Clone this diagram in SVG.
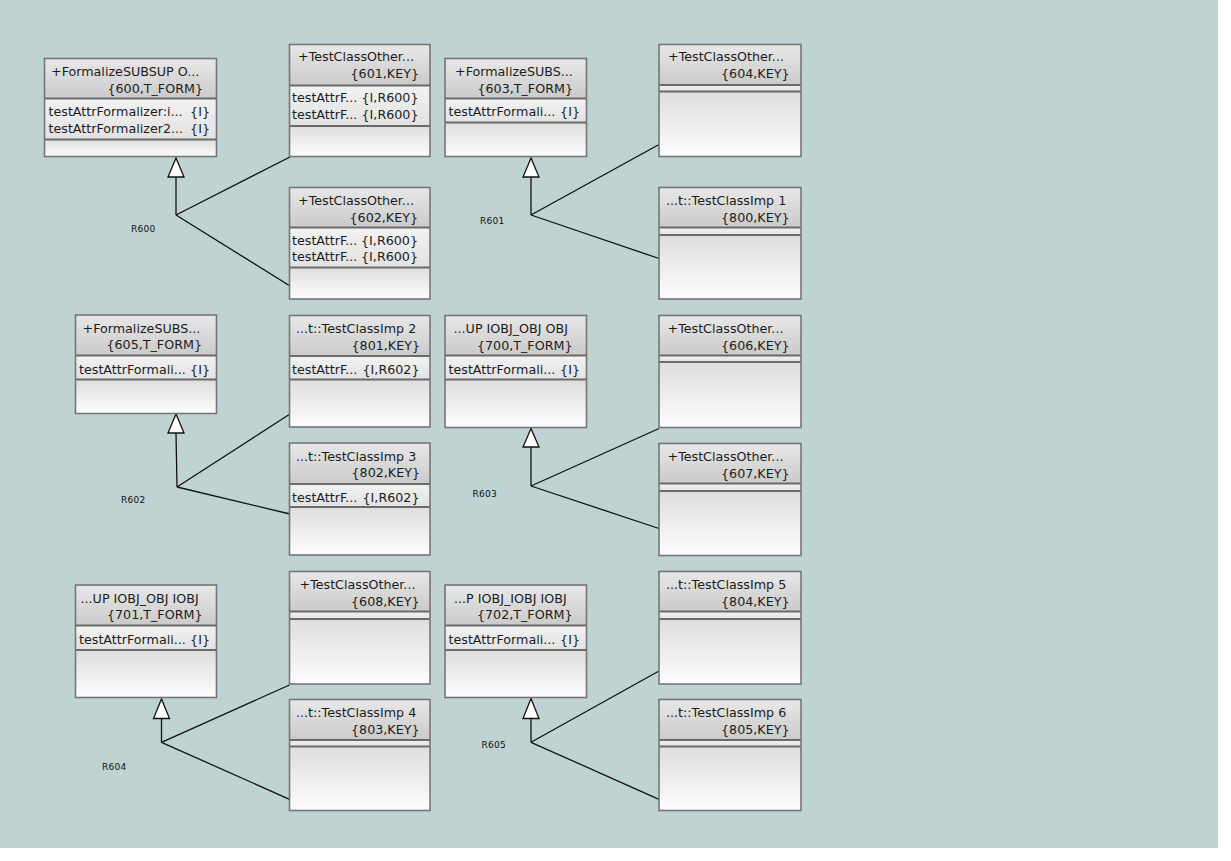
<svg xmlns="http://www.w3.org/2000/svg" width="1231" height="861" viewBox="0 0 1231 861">
  <defs>
    <linearGradient id="gHead" x1="0" y1="0" x2="0" y2="1">
      <stop offset="0" stop-color="#e8e8e8"/>
      <stop offset="1" stop-color="#cacaca"/>
    </linearGradient>
    <linearGradient id="gAttr" x1="0" y1="0" x2="0" y2="1">
      <stop offset="0" stop-color="#f2f2f2"/>
      <stop offset="1" stop-color="#e2e2e2"/>
    </linearGradient>
    <linearGradient id="gOps" x1="0" y1="0" x2="0" y2="1">
      <stop offset="0" stop-color="#dedede"/>
      <stop offset="1" stop-color="#fdfdfd"/>
    </linearGradient>
  </defs>
  <style>
    .hd { fill: url(#gHead); }
    .at { fill: url(#gAttr); }
    .op { fill: url(#gOps); }
    .frame { fill: none; stroke: #767676; stroke-width: 1.6; }
    .div { stroke: #6a6a6a; stroke-width: 2; }
    .t { font-family: "DejaVu Sans", sans-serif; font-size: 12.7px; fill: #1c1c1c; }
    .r { text-anchor: end; }
    .conn line { stroke: #111; stroke-width: 1.3; fill: none; }
    .tri { fill: #ffffff; stroke: #111; stroke-width: 1.3; }
    .lbl { font-family: "DejaVu Sans", sans-serif; font-size: 9px; fill: #111; letter-spacing: 0.3px; }
  </style>

  <!-- canvas -->
  <rect x="0" y="0" width="1231" height="861" fill="#ffffff"/>
  <rect x="0" y="0" width="1218" height="848" fill="#bfd3d2"/>

  <!-- generalization connectors -->
  <g id="connectors" class="conn">
    <!-- R600 -->
    <line x1="176" y1="177" x2="176" y2="215"/>
    <line x1="176" y1="215" x2="290" y2="157"/>
    <line x1="176" y1="215" x2="290" y2="286"/>
    <polygon class="tri" points="176,158 168,177 184,177"/>
    <!-- R601 -->
    <line x1="531" y1="177" x2="531" y2="215"/>
    <line x1="531" y1="215" x2="659" y2="144.5"/>
    <line x1="531" y1="215" x2="659" y2="258.5"/>
    <polygon class="tri" points="531,158 523,177 539,177"/>
    <!-- R602 -->
    <line x1="176" y1="433" x2="177" y2="487"/>
    <line x1="177" y1="487" x2="290" y2="414"/>
    <line x1="177" y1="487" x2="290" y2="514"/>
    <polygon class="tri" points="176,414 168,433 184,433"/>
    <!-- R603 -->
    <line x1="531" y1="447" x2="531" y2="486"/>
    <line x1="531" y1="486" x2="659" y2="428.5"/>
    <line x1="531" y1="486" x2="659" y2="528.5"/>
    <polygon class="tri" points="531,428.5 523,447 539,447"/>
    <!-- R604 -->
    <line x1="161.5" y1="718.5" x2="161.5" y2="742.3"/>
    <line x1="161.5" y1="742.3" x2="289.5" y2="685"/>
    <line x1="161.5" y1="742.3" x2="289.5" y2="799.3"/>
    <polygon class="tri" points="161.5,699 153.5,718.5 169.5,718.5"/>
    <!-- R605 -->
    <line x1="531" y1="718.5" x2="531" y2="742.3"/>
    <line x1="531" y1="742.3" x2="659" y2="671"/>
    <line x1="531" y1="742.3" x2="659" y2="799.3"/>
    <polygon class="tri" points="531,698.5 523,718.5 539,718.5"/>
    <!-- association labels -->
    <text class="lbl" x="131" y="232">R600</text>
    <text class="lbl" x="480" y="224">R601</text>
    <text class="lbl" x="121" y="503">R602</text>
    <text class="lbl" x="472.5" y="496.5">R603</text>
    <text class="lbl" x="102" y="770">R604</text>
    <text class="lbl" x="481.5" y="748.3">R605</text>
  </g>

  <!-- 600 -->
  <g id="cls600" transform="translate(44.5,58.5)">
    <rect class="hd" width="172" height="40"/>
    <rect class="at" y="40" width="172" height="41"/>
    <rect class="op" y="81" width="172" height="17"/>
    <line class="div" x1="0" y1="40" x2="172" y2="40"/>
    <line class="div" x1="0" y1="81" x2="172" y2="81"/>
    <rect class="frame" width="172" height="98"/>
    <text class="t" x="6.5" y="17">+FormalizeSUBSUP O...</text>
    <text class="t r" x="158.5" y="34">{600,T_FORM}</text>
    <text class="t" x="4" y="57.5">testAttrFormalizer:i...</text>
    <text class="t r" x="165.5" y="57.5">{I}</text>
    <text class="t" x="4" y="74">testAttrFormalizer2...</text>
    <text class="t r" x="165.5" y="74">{I}</text>
  </g>

  <!-- 601 -->
  <g id="cls601" transform="translate(289.5,44.5)">
    <rect class="hd" width="140.5" height="41"/>
    <rect class="at" y="41" width="140.5" height="40.5"/>
    <rect class="op" y="81.5" width="140.5" height="30.5"/>
    <line class="div" x1="0" y1="41" x2="140.5" y2="41"/>
    <line class="div" x1="0" y1="81.5" x2="140.5" y2="81.5"/>
    <rect class="frame" width="140.5" height="112"/>
    <text class="t" x="8.5" y="16.5">+TestClassOther...</text>
    <text class="t r" x="129.5" y="33.5">{601,KEY}</text>
    <text class="t" x="2.5" y="57.5">testAttrF...</text>
    <text class="t r" x="129" y="57.5">{I,R600}</text>
    <text class="t" x="2.5" y="74">testAttrF...</text>
    <text class="t r" x="129" y="74">{I,R600}</text>
  </g>

  <!-- 602 -->
  <g id="cls602" transform="translate(289.5,187.5)">
    <rect class="hd" width="140.5" height="40"/>
    <rect class="at" y="40" width="140.5" height="40"/>
    <rect class="op" y="80" width="140.5" height="31.5"/>
    <line class="div" x1="0" y1="40" x2="140.5" y2="40"/>
    <line class="div" x1="0" y1="80" x2="140.5" y2="80"/>
    <rect class="frame" width="140.5" height="111.5"/>
    <text class="t" x="8.5" y="17">+TestClassOther...</text>
    <text class="t r" x="128.5" y="34">{602,KEY}</text>
    <text class="t" x="2.5" y="57">testAttrF...</text>
    <text class="t r" x="128.5" y="57">{I,R600}</text>
    <text class="t" x="2.5" y="73.5">testAttrF...</text>
    <text class="t r" x="128.5" y="73.5">{I,R600}</text>
  </g>

  <!-- 603 -->
  <g id="cls603" transform="translate(445,58.5)">
    <rect class="hd" width="141.5" height="40"/>
    <rect class="at" y="40" width="141.5" height="24"/>
    <rect class="op" y="64" width="141.5" height="34"/>
    <line class="div" x1="0" y1="40" x2="141.5" y2="40"/>
    <line class="div" x1="0" y1="64" x2="141.5" y2="64"/>
    <rect class="frame" width="141.5" height="98"/>
    <text class="t" x="10" y="17">+FormalizeSUBS...</text>
    <text class="t r" x="128" y="34">{603,T_FORM}</text>
    <text class="t" x="3.5" y="57.5">testAttrFormali...</text>
    <text class="t r" x="135" y="57.5">{I}</text>
  </g>

  <!-- 604 -->
  <g id="cls604" transform="translate(659,44.5)">
    <rect class="hd" width="142" height="40.5"/>
    <rect class="at" y="40.5" width="142" height="6.5"/>
    <rect class="op" y="47" width="142" height="65"/>
    <line class="div" x1="0" y1="40.5" x2="142" y2="40.5"/>
    <line class="div" x1="0" y1="47" x2="142" y2="47"/>
    <rect class="frame" width="142" height="112"/>
    <text class="t" x="9" y="16.5">+TestClassOther...</text>
    <text class="t r" x="130.5" y="33.5">{604,KEY}</text>
  </g>

  <!-- 800 -->
  <g id="cls800" transform="translate(659,187.5)">
    <rect class="hd" width="142" height="40"/>
    <rect class="at" y="40" width="142" height="7.5"/>
    <rect class="op" y="47.5" width="142" height="64"/>
    <line class="div" x1="0" y1="40" x2="142" y2="40"/>
    <line class="div" x1="0" y1="47.5" x2="142" y2="47.5"/>
    <rect class="frame" width="142" height="111.5"/>
    <text class="t" x="7" y="17">...t::TestClassImp 1</text>
    <text class="t r" x="130.5" y="34">{800,KEY}</text>
  </g>

  <!-- 605 -->
  <g id="cls605" transform="translate(75.5,315)">
    <rect class="hd" width="141" height="40.5"/>
    <rect class="at" y="40.5" width="141" height="24"/>
    <rect class="op" y="64.5" width="141" height="34"/>
    <line class="div" x1="0" y1="40.5" x2="141" y2="40.5"/>
    <line class="div" x1="0" y1="64.5" x2="141" y2="64.5"/>
    <rect class="frame" width="141" height="98.5"/>
    <text class="t" x="7" y="17.5">+FormalizeSUBS...</text>
    <text class="t r" x="126.5" y="34.3">{605,T_FORM}</text>
    <text class="t" x="3.5" y="59">testAttrFormali...</text>
    <text class="t r" x="134.5" y="59">{I}</text>
  </g>

  <!-- 801 -->
  <g id="cls801" transform="translate(289.5,315.5)">
    <rect class="hd" width="140.5" height="40.5"/>
    <rect class="at" y="40.5" width="140.5" height="23.5"/>
    <rect class="op" y="64" width="140.5" height="47.5"/>
    <line class="div" x1="0" y1="40.5" x2="140.5" y2="40.5"/>
    <line class="div" x1="0" y1="64" x2="140.5" y2="64"/>
    <rect class="frame" width="140.5" height="111.5"/>
    <text class="t" x="6.5" y="17.2">...t::TestClassImp 2</text>
    <text class="t r" x="130.5" y="34">{801,KEY}</text>
    <text class="t" x="2.5" y="58.8">testAttrF...</text>
    <text class="t r" x="130" y="58.8">{I,R602}</text>
  </g>

  <!-- 802 -->
  <g id="cls802" transform="translate(289.5,443)">
    <rect class="hd" width="140.5" height="41"/>
    <rect class="at" y="41" width="140.5" height="23"/>
    <rect class="op" y="64" width="140.5" height="48"/>
    <line class="div" x1="0" y1="41" x2="140.5" y2="41"/>
    <line class="div" x1="0" y1="64" x2="140.5" y2="64"/>
    <rect class="frame" width="140.5" height="112"/>
    <text class="t" x="6.5" y="17.5">...t::TestClassImp 3</text>
    <text class="t r" x="130.5" y="34.3">{802,KEY}</text>
    <text class="t" x="2.5" y="58.5">testAttrF...</text>
    <text class="t r" x="130" y="58.5">{I,R602}</text>
  </g>

  <!-- 700 -->
  <g id="cls700" transform="translate(445,315.5)">
    <rect class="hd" width="141.5" height="40"/>
    <rect class="at" y="40" width="141.5" height="24"/>
    <rect class="op" y="64" width="141.5" height="48"/>
    <line class="div" x1="0" y1="40" x2="141.5" y2="40"/>
    <line class="div" x1="0" y1="64" x2="141.5" y2="64"/>
    <rect class="frame" width="141.5" height="112"/>
    <text class="t" x="8.5" y="17.2">...UP IOBJ_OBJ OBJ</text>
    <text class="t r" x="127.5" y="34">{700,T_FORM}</text>
    <text class="t" x="3.5" y="58.8">testAttrFormali...</text>
    <text class="t r" x="135" y="58.8">{I}</text>
  </g>

  <!-- 606 -->
  <g id="cls606" transform="translate(659,315.5)">
    <rect class="hd" width="142" height="40"/>
    <rect class="at" y="40" width="142" height="6.5"/>
    <rect class="op" y="46.5" width="142" height="65.5"/>
    <line class="div" x1="0" y1="40" x2="142" y2="40"/>
    <line class="div" x1="0" y1="46.5" x2="142" y2="46.5"/>
    <rect class="frame" width="142" height="112"/>
    <text class="t" x="8.5" y="17.2">+TestClassOther...</text>
    <text class="t r" x="130.5" y="34">{606,KEY}</text>
  </g>

  <!-- 607 -->
  <g id="cls607" transform="translate(659,443.5)">
    <rect class="hd" width="142" height="40"/>
    <rect class="at" y="40" width="142" height="7.5"/>
    <rect class="op" y="47.5" width="142" height="64.5"/>
    <line class="div" x1="0" y1="40" x2="142" y2="40"/>
    <line class="div" x1="0" y1="47.5" x2="142" y2="47.5"/>
    <rect class="frame" width="142" height="112"/>
    <text class="t" x="8.5" y="17.2">+TestClassOther...</text>
    <text class="t r" x="130.5" y="34">{607,KEY}</text>
  </g>

  <!-- 701 -->
  <g id="cls701" transform="translate(75.5,585)">
    <rect class="hd" width="141" height="40.5"/>
    <rect class="at" y="40.5" width="141" height="24.5"/>
    <rect class="op" y="65" width="141" height="47.5"/>
    <line class="div" x1="0" y1="40.5" x2="141" y2="40.5"/>
    <line class="div" x1="0" y1="65" x2="141" y2="65"/>
    <rect class="frame" width="141" height="112.5"/>
    <text class="t" x="5" y="17.5">...UP IOBJ_OBJ IOBJ</text>
    <text class="t r" x="127" y="34.3">{701,T_FORM}</text>
    <text class="t" x="3.5" y="59">testAttrFormali...</text>
    <text class="t r" x="134.5" y="59">{I}</text>
  </g>

  <!-- 608 -->
  <g id="cls608" transform="translate(289.5,571.5)">
    <rect class="hd" width="140.5" height="40"/>
    <rect class="at" y="40" width="140.5" height="7.5"/>
    <rect class="op" y="47.5" width="140.5" height="65"/>
    <line class="div" x1="0" y1="40" x2="140.5" y2="40"/>
    <line class="div" x1="0" y1="47.5" x2="140.5" y2="47.5"/>
    <rect class="frame" width="140.5" height="112.5"/>
    <text class="t" x="10" y="17">+TestClassOther...</text>
    <text class="t r" x="130" y="34">{608,KEY}</text>
  </g>

  <!-- 803 -->
  <g id="cls803" transform="translate(289.5,699.5)">
    <rect class="hd" width="140.5" height="40.5"/>
    <rect class="at" y="40.5" width="140.5" height="6.5"/>
    <rect class="op" y="47" width="140.5" height="64"/>
    <line class="div" x1="0" y1="40.5" x2="140.5" y2="40.5"/>
    <line class="div" x1="0" y1="47" x2="140.5" y2="47"/>
    <rect class="frame" width="140.5" height="111"/>
    <text class="t" x="6.5" y="17">...t::TestClassImp 4</text>
    <text class="t r" x="130" y="34">{803,KEY}</text>
  </g>

  <!-- 702 -->
  <g id="cls702" transform="translate(445,585)">
    <rect class="hd" width="141.5" height="40.5"/>
    <rect class="at" y="40.5" width="141.5" height="24.5"/>
    <rect class="op" y="65" width="141.5" height="47.5"/>
    <line class="div" x1="0" y1="40.5" x2="141.5" y2="40.5"/>
    <line class="div" x1="0" y1="65" x2="141.5" y2="65"/>
    <rect class="frame" width="141.5" height="112.5"/>
    <text class="t" x="9" y="17.5">...P IOBJ_IOBJ IOBJ</text>
    <text class="t r" x="127.5" y="34.3">{702,T_FORM}</text>
    <text class="t" x="3.5" y="59">testAttrFormali...</text>
    <text class="t r" x="135" y="59">{I}</text>
  </g>

  <!-- 804 -->
  <g id="cls804" transform="translate(659,571.5)">
    <rect class="hd" width="142" height="40"/>
    <rect class="at" y="40" width="142" height="7.5"/>
    <rect class="op" y="47.5" width="142" height="65"/>
    <line class="div" x1="0" y1="40" x2="142" y2="40"/>
    <line class="div" x1="0" y1="47.5" x2="142" y2="47.5"/>
    <rect class="frame" width="142" height="112.5"/>
    <text class="t" x="7" y="17">...t::TestClassImp 5</text>
    <text class="t r" x="130.5" y="34">{804,KEY}</text>
  </g>

  <!-- 805 -->
  <g id="cls805" transform="translate(659,699.5)">
    <rect class="hd" width="142" height="40.5"/>
    <rect class="at" y="40.5" width="142" height="6.5"/>
    <rect class="op" y="47" width="142" height="64"/>
    <line class="div" x1="0" y1="40.5" x2="142" y2="40.5"/>
    <line class="div" x1="0" y1="47" x2="142" y2="47"/>
    <rect class="frame" width="142" height="111"/>
    <text class="t" x="7" y="17">...t::TestClassImp 6</text>
    <text class="t r" x="130.5" y="34">{805,KEY}</text>
  </g>
</svg>
